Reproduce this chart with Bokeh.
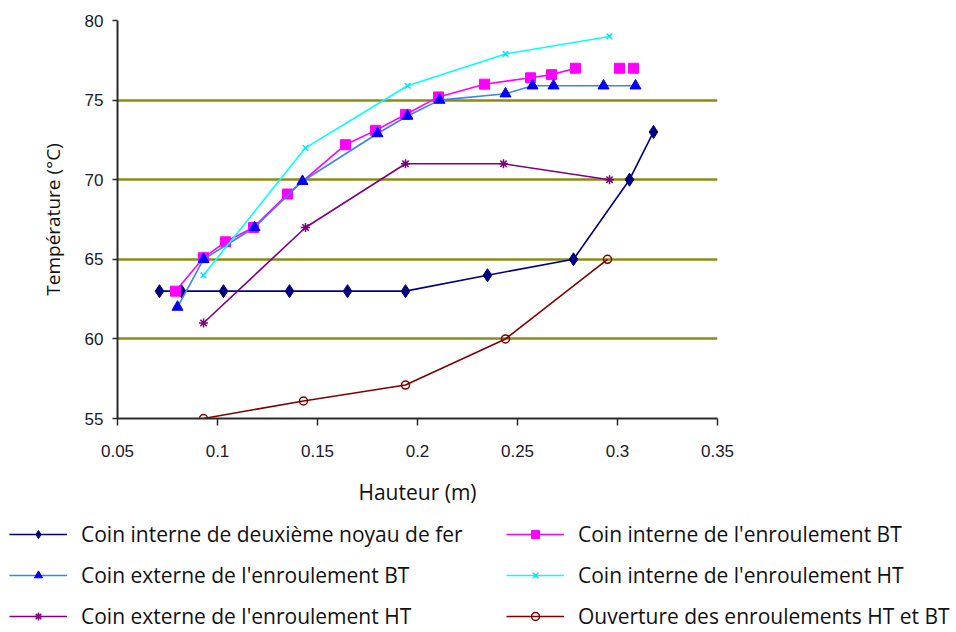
from bokeh.plotting import figure
from bokeh.models import Range1d, FixedTicker, Legend, LegendItem
from bokeh.embed import file_html
from bokeh.resources import INLINE

# ---- data ----
x_ticks = [0.05, 0.1, 0.15, 0.2, 0.25, 0.3, 0.35]
x_tick_labels = ["0.05", "0.1", "0.15", "0.2", "0.25", "0.3", "0.35"]
y_ticks = [55, 60, 65, 70, 75, 80]
grid_values = [60, 65, 70, 75]

navy_x = [0.071, 0.082, 0.103, 0.136, 0.165, 0.194, 0.235, 0.278, 0.306, 0.318]
navy_y = [63, 63, 63, 63, 63, 63, 64, 65, 70, 73]

mag_x = [0.079, 0.093, 0.104, 0.118, 0.135, 0.164, 0.179, 0.194, 0.2105, 0.2335, 0.2565, 0.267, 0.279, 0.301, 0.308]
mag_y = [63, 65.1, 66.1, 67, 69.1, 72.2, 73.1, 74.1, 75.2, 76, 76.4, 76.6, 77, 77, 77]
mag_connected = 13

blue_x = [0.080, 0.093, 0.1185, 0.1425, 0.180, 0.195, 0.211, 0.244, 0.2575, 0.268, 0.293, 0.309]
blue_y = [62, 65, 67, 69.9, 72.9, 74, 75, 75.4, 75.9, 75.9, 75.9, 75.9]

cyan_x = [0.093, 0.144, 0.195, 0.244, 0.296]
cyan_y = [64, 72, 75.9, 77.9, 79]

purple_x = [0.093, 0.144, 0.194, 0.243, 0.296]
purple_y = [61, 67, 71, 71, 70]

brown_x = [0.093, 0.143, 0.194, 0.244, 0.295]
brown_y = [55, 56.1, 57.1, 60, 65]

names = [
    "Coin interne de deuxième noyau de fer",
    "Coin interne de l'enroulement BT",
    "Coin externe de l'enroulement BT",
    "Coin interne de l'enroulement HT",
    "Coin externe de l'enroulement HT",
    "Ouverture des enroulements HT et BT",
]

TEXT_FONT = "Open Sans"
TICK_FONT = "Liberation Sans"

# series styles: (line colour, marker, marker size, fill colour, marker line colour)
styles = [
    ("#000080", "diamond", 13, "#000080", "#000080"),
    ("#ff00ff", "square", 10, "#ff00ff", "#ff00ff"),
    ("#3f7fff", "triangle", 11, "#0000ff", "#0000ff"),
    ("#00ffff", "x", 8, None, "#00e5ff"),
    ("#800080", "asterisk", 9, None, "#800080"),
    ("#800000", "circle", 8, None, "#800000"),
]
series = [(navy_x, navy_y, None), (mag_x, mag_y, mag_connected), (blue_x, blue_y, None),
          (cyan_x, cyan_y, None), (purple_x, purple_y, None), (brown_x, brown_y, None)]

W = 950
H_MAIN = 508
H_LEG = 632 - H_MAIN

p = figure(width=W, height=H_MAIN, output_backend="svg", toolbar_location=None,
           x_range=Range1d(0.05, 0.35), y_range=Range1d(55, 80),
           min_border_left=117, min_border_right=W - 117 - 600,
           min_border_top=20, min_border_bottom=87)
p.outline_line_color = None
p.background_fill_color = "white"

# grid
p.xgrid.visible = False
p.ygrid.ticker = FixedTicker(ticks=grid_values)
p.ygrid.grid_line_color = "#8c8c14"
p.ygrid.grid_line_width = 2.5

# axes
p.xaxis.ticker = FixedTicker(ticks=x_ticks)
p.xaxis.major_label_overrides = {t: s for t, s in zip(x_ticks, x_tick_labels)}
p.yaxis.ticker = FixedTicker(ticks=y_ticks)
for ax in (p.xaxis[0], p.yaxis[0]):
    ax.axis_line_color = "#2b2b2b"
    ax.axis_line_width = 2
    ax.major_tick_line_color = "#2b2b2b"
    ax.major_tick_line_width = 1.5
    ax.major_tick_in = 0
    ax.minor_tick_line_color = None
    ax.major_label_text_font = TICK_FONT
    ax.major_label_text_font_size = "17px"
    ax.major_label_text_color = "#1a1a2a"
    ax.axis_label_text_font = TEXT_FONT
    ax.axis_label_text_font_style = "normal"
    ax.axis_label_text_color = "#111111"
p.xaxis.axis_label_text_font_size = "21px"
p.yaxis.axis_label_text_font_size = "19px"
p.xaxis.major_tick_out = 7
p.yaxis.major_tick_out = 5
p.xaxis.major_label_standoff = 19
p.yaxis.major_label_standoff = 9
p.xaxis.axis_label = "Hauteur (m)"
p.yaxis.axis_label = "Température (°C)"
p.xaxis.axis_label_standoff = 18
p.yaxis.axis_label_standoff = 16


def draw(fig, xs, ys, style, n_line=None):
    lc, mk, sz, fc, mc = style
    lx = xs if n_line is None else xs[:n_line]
    ly = ys if n_line is None else ys[:n_line]
    rl = fig.line(lx, ly, line_color=lc, line_width=1.6)
    if fc is None:
        rm = fig.scatter(xs, ys, marker=mk, size=sz, fill_color="white", fill_alpha=0.0,
                         line_color=mc, line_width=1.5)
    else:
        rm = fig.scatter(xs, ys, marker=mk, size=sz, fill_color=fc, line_color=mc)
    return [rl, rm]

# series (drawn in Excel series order)
for (xs, ys, n), st in zip(series, styles):
    draw(p, xs, ys, st, n)

# ---- legend strip below the chart (same series, kept out of view) ----
q = figure(width=956, height=H_LEG, output_backend="svg", toolbar_location=None,
           x_axis_type=None, y_axis_type=None,
           x_range=Range1d(100, 101), y_range=Range1d(100, 101),
           min_border=0)
q.outline_line_color = None
q.xgrid.visible = False
q.ygrid.visible = False
leg_r = [draw(q, xs, ys, st, n) for (xs, ys, n), st in zip(series, styles)]


def make_legend(idx, loc):
    items = [LegendItem(label=names[i], renderers=leg_r[i]) for i in idx]
    return Legend(items=items, location=loc, orientation="vertical",
                  glyph_width=58, glyph_height=20, label_standoff=14,
                  label_text_font=TEXT_FONT, label_text_font_size="21px",
                  label_text_color="#111111", label_height=24, spacing=13,
                  padding=0, margin=0, border_line_color=None,
                  background_fill_alpha=0.0)

q.add_layout(make_legend([0, 2, 4], (9, 2)))
q.add_layout(make_legend([1, 3, 5], (506, 2)))

open("out.html", "w").write(file_html([p, q], INLINE))
